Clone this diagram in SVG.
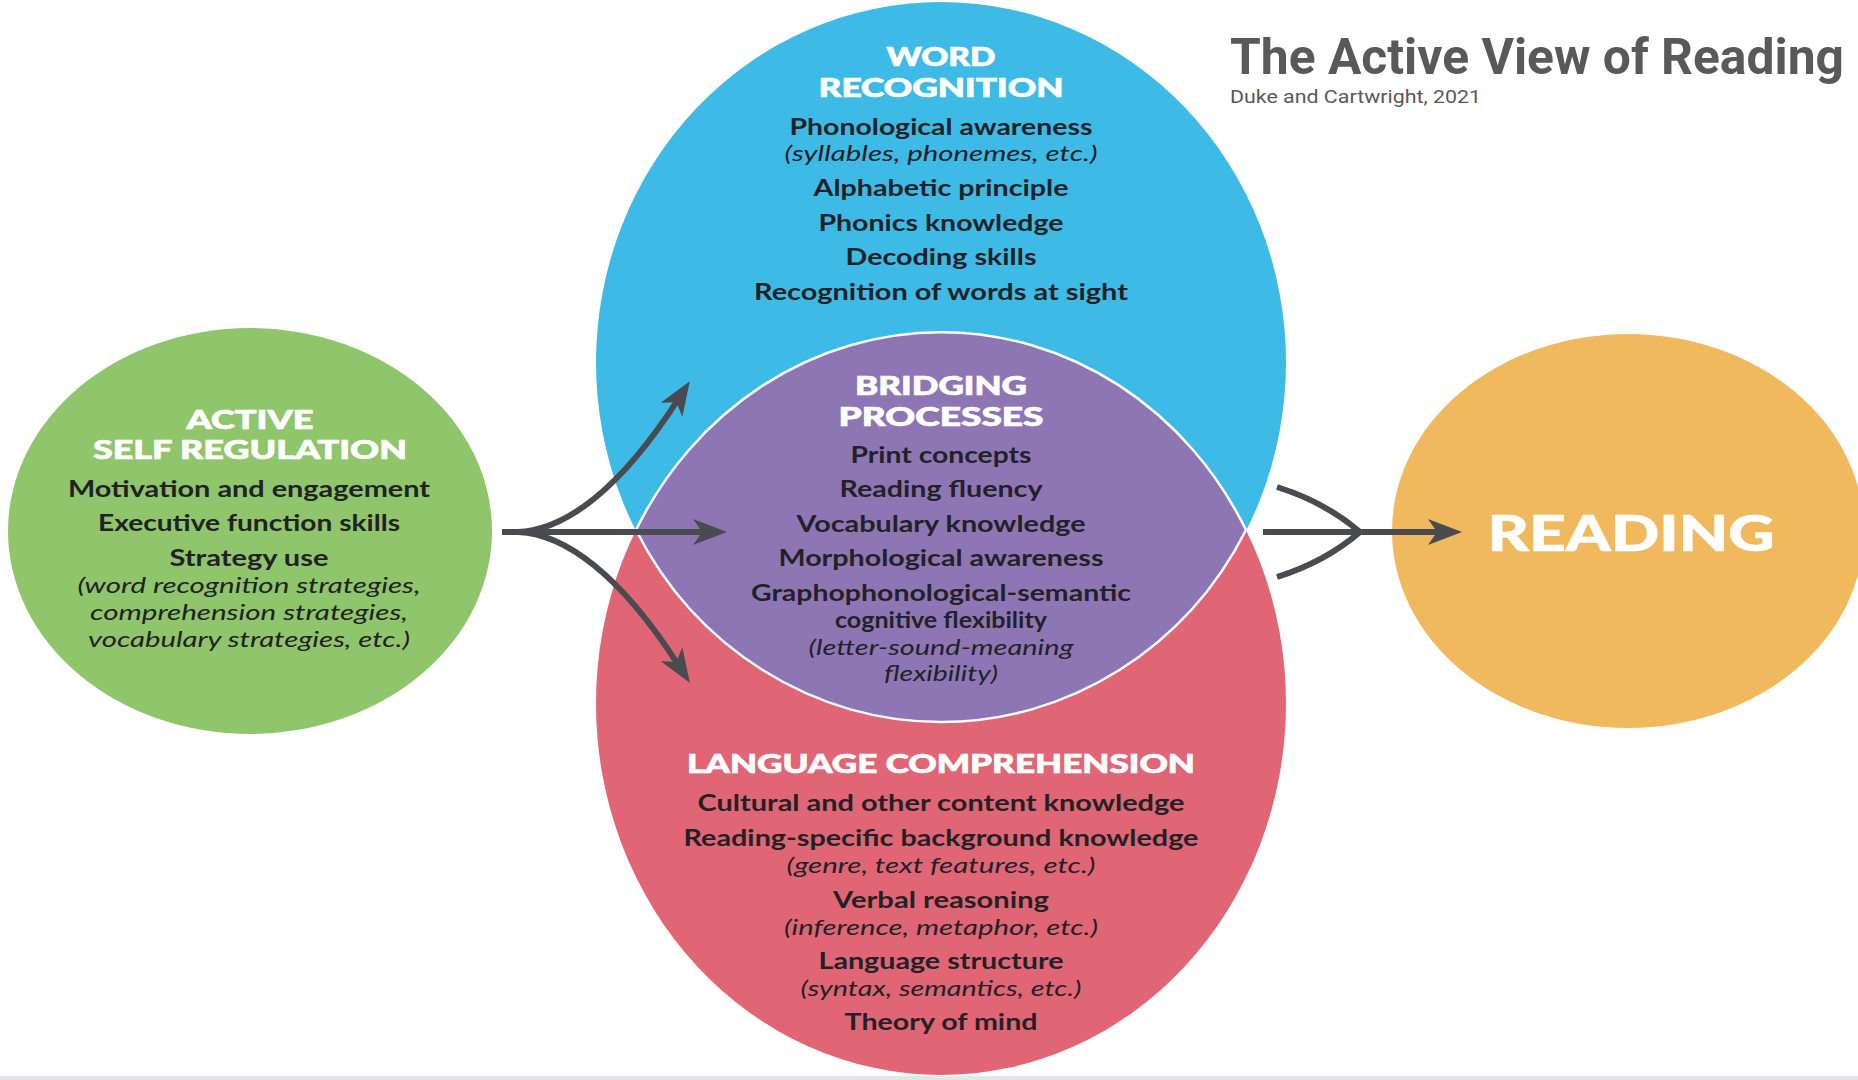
<svg xmlns="http://www.w3.org/2000/svg" width="1858" height="1080" viewBox="0 0 1858 1080">
  <style>
    .hd { font-family: Lato, "Open Sans", "DejaVu Sans", sans-serif; font-weight: 900; fill: #ffffff; stroke: #ffffff; stroke-width: 0.7; text-anchor: middle; font-size: 26px; }
    .bd { font-family: Lato, "Open Sans", "DejaVu Sans", sans-serif; font-weight: 700; fill: #222226; text-anchor: middle; font-size: 22px; }
    .it { font-family: Lato, "Open Sans", "DejaVu Sans", sans-serif; font-weight: 400; font-style: italic; fill: #222226; text-anchor: middle; font-size: 22px; }
    .conn { fill: none; stroke: #4a4b50; stroke-width: 6; }
    .title { font-family: Roboto, "Liberation Sans", Arial, sans-serif; font-weight: 700; fill: #595959; font-size: 50px; }
    .sub { font-family: Roboto, "Liberation Sans", Arial, sans-serif; fill: #595959; font-size: 19px; }
  </style>
  <defs>
    <marker id="ah" markerUnits="userSpaceOnUse" viewBox="0 0 34 26" markerWidth="34" markerHeight="26" refX="14" refY="13" orient="auto">
      <path d="M0,0 L34,13 L0,26 L9,13 Z" fill="#4a4b50"/>
    </marker>
  </defs>
  <rect x="0" y="0" width="1858" height="1080" fill="#ffffff"/>
  <rect x="0" y="1076" width="1858" height="4" fill="#e6e6e8"/>

  <g id="word-recognition">
    <ellipse cx="941" cy="362.5" rx="345" ry="360.5" fill="#3dbbe6"/>
  </g>
  <g id="language-comprehension">
    <ellipse cx="941" cy="703.5" rx="345" ry="371.5" fill="#e06676"/>
  </g>
  <g id="bridging-processes">
    <path d="M636,530 A345,371.5 0 0 1 1246,530 A345,360.5 0 0 1 636,530 Z" fill="#8e76b5" stroke="#ffffff" stroke-width="2.5"/>
  </g>
  <g id="active-self-regulation">
    <ellipse cx="250" cy="531" rx="242" ry="203" fill="#8fc56b"/>
  </g>
  <g id="reading">
    <ellipse cx="1628" cy="531" rx="236" ry="197" fill="#f0b95d"/>
  </g>

  <g id="connectors">
    <path class="conn" d="M502,532 L707,532" marker-end="url(#ah)"/>
    <path class="conn" d="M518,532 C565,530 620,490 679,398" marker-end="url(#ah)"/>
    <path class="conn" d="M518,532 C565,534 620,574 679,666" marker-end="url(#ah)"/>
    <path class="conn" d="M1263,532 L1442,532" marker-end="url(#ah)"/>
    <path class="conn" d="M1277,487 Q1325,502 1360,532"/>
    <path class="conn" d="M1277,577 Q1325,562 1360,532"/>
  </g>

  <g id="word-recognition-text">
    <text class="hd" x="941" y="66" textLength="109" lengthAdjust="spacingAndGlyphs">WORD</text>
    <text class="hd" x="941" y="97" textLength="245" lengthAdjust="spacingAndGlyphs">RECOGNITION</text>
    <text class="bd" x="941" y="135" textLength="303" lengthAdjust="spacingAndGlyphs">Phonological awareness</text>
    <text class="it" x="941" y="161" textLength="313" lengthAdjust="spacingAndGlyphs">(syllables, phonemes, etc.)</text>
    <text class="bd" x="941" y="196" textLength="255" lengthAdjust="spacingAndGlyphs">Alphabetic principle</text>
    <text class="bd" x="941" y="231" textLength="245" lengthAdjust="spacingAndGlyphs">Phonics knowledge</text>
    <text class="bd" x="941" y="265" textLength="191" lengthAdjust="spacingAndGlyphs">Decoding skills</text>
    <text class="bd" x="941" y="300" textLength="374" lengthAdjust="spacingAndGlyphs">Recognition of words at sight</text>
  </g>

  <g id="bridging-text">
    <text class="hd" x="941" y="395" textLength="172" lengthAdjust="spacingAndGlyphs">BRIDGING</text>
    <text class="hd" x="941" y="426" textLength="205" lengthAdjust="spacingAndGlyphs">PROCESSES</text>
    <text class="bd" x="941" y="463" textLength="181" lengthAdjust="spacingAndGlyphs">Print concepts</text>
    <text class="bd" x="941" y="497" textLength="203" lengthAdjust="spacingAndGlyphs">Reading fluency</text>
    <text class="bd" x="941" y="532" textLength="289" lengthAdjust="spacingAndGlyphs">Vocabulary knowledge</text>
    <text class="bd" x="941" y="566" textLength="325" lengthAdjust="spacingAndGlyphs">Morphological awareness</text>
    <text class="bd" x="941" y="601" textLength="380" lengthAdjust="spacingAndGlyphs">Graphophonological-semantic</text>
    <text class="bd" x="941" y="628" textLength="212" lengthAdjust="spacingAndGlyphs">cognitive flexibility</text>
    <text class="it" x="941" y="655" textLength="265" lengthAdjust="spacingAndGlyphs">(letter-sound-meaning</text>
    <text class="it" x="941" y="681" textLength="114" lengthAdjust="spacingAndGlyphs">flexibility)</text>
  </g>

  <g id="language-text">
    <text class="hd" x="941" y="773" textLength="508" lengthAdjust="spacingAndGlyphs">LANGUAGE COMPREHENSION</text>
    <text class="bd" x="941" y="811" textLength="487" lengthAdjust="spacingAndGlyphs">Cultural and other content knowledge</text>
    <text class="bd" x="941" y="846" textLength="515" lengthAdjust="spacingAndGlyphs">Reading-specific background knowledge</text>
    <text class="it" x="941" y="873" textLength="309" lengthAdjust="spacingAndGlyphs">(genre, text features, etc.)</text>
    <text class="bd" x="941" y="908" textLength="216" lengthAdjust="spacingAndGlyphs">Verbal reasoning</text>
    <text class="it" x="941" y="935" textLength="314" lengthAdjust="spacingAndGlyphs">(inference, metaphor, etc.)</text>
    <text class="bd" x="941" y="969" textLength="245" lengthAdjust="spacingAndGlyphs">Language structure</text>
    <text class="it" x="941" y="996" textLength="281" lengthAdjust="spacingAndGlyphs">(syntax, semantics, etc.)</text>
    <text class="bd" x="941" y="1030" textLength="193" lengthAdjust="spacingAndGlyphs">Theory of mind</text>
  </g>

  <g id="active-self-regulation-text">
    <text class="hd" x="250" y="429" textLength="127" lengthAdjust="spacingAndGlyphs">ACTIVE</text>
    <text class="hd" x="250" y="459" textLength="314" lengthAdjust="spacingAndGlyphs">SELF REGULATION</text>
    <text class="bd" x="249" y="497" textLength="362" lengthAdjust="spacingAndGlyphs">Motivation and engagement</text>
    <text class="bd" x="249" y="531" textLength="302" lengthAdjust="spacingAndGlyphs">Executive function skills</text>
    <text class="bd" x="249" y="566" textLength="159" lengthAdjust="spacingAndGlyphs">Strategy use</text>
    <text class="it" x="249" y="593" textLength="343" lengthAdjust="spacingAndGlyphs">(word recognition strategies,</text>
    <text class="it" x="249" y="620" textLength="318" lengthAdjust="spacingAndGlyphs">comprehension strategies,</text>
    <text class="it" x="249" y="647" textLength="322" lengthAdjust="spacingAndGlyphs">vocabulary strategies, etc.)</text>
  </g>

  <g id="reading-text">
    <text class="hd" x="1631" y="551" style="font-size:50px" textLength="287" lengthAdjust="spacingAndGlyphs">READING</text>
  </g>

  <g id="title">
    <text class="title" x="1230" y="74" textLength="614" lengthAdjust="spacingAndGlyphs">The Active View of Reading</text>
    <text class="sub" x="1230" y="103" textLength="251" lengthAdjust="spacingAndGlyphs">Duke and Cartwright, 2021</text>
  </g>
</svg>
